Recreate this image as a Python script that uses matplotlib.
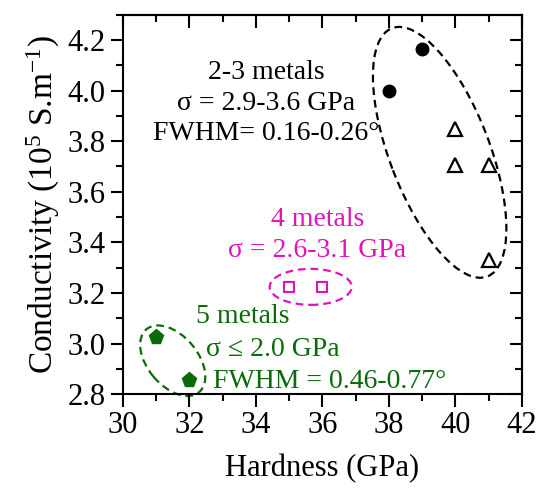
import numpy as np
import matplotlib
matplotlib.use("Agg")
import matplotlib.pyplot as plt
from matplotlib.patches import Ellipse
from matplotlib.transforms import ScaledTranslation
from matplotlib.ticker import MultipleLocator

plt.rcParams['font.family'] = ['Liberation Serif', 'DejaVu Serif']
plt.rcParams['mathtext.fontset'] = 'custom'
plt.rcParams['mathtext.rm'] = 'Liberation Serif'
plt.rcParams['mathtext.it'] = 'Liberation Serif:italic'

# data
circ_x = [38, 39]
circ_y = [4.00, 4.165]
tri_x = [40, 40, 41, 41]
tri_y = [3.85, 3.705, 3.705, 3.33]
sq_x = [35, 36]
sq_y = [3.225, 3.225]
pent_x = [31, 32]
pent_y = [3.025, 2.855]

MAGENTA = '#E014B8'
GREEN = '#0B6B0B'

fig = plt.figure(figsize=(5.39, 4.92), dpi=100)
ax = fig.add_axes([0.228, 0.199, 0.740, 0.771])

ax.plot(circ_x, circ_y, 'o', color='black', ms=9, clip_on=False)
ax.plot(tri_x, tri_y, '^', mfc='white', mec='black', mew=1.6, ms=10, clip_on=False)
ax.plot(sq_x, sq_y, 's', mfc='white', mec=MAGENTA, mew=1.5, ms=7, clip_on=False)
ax.plot(pent_x, pent_y, 'p', color=GREEN, ms=11, clip_on=False)

ax.set_xlim(30, 42)
ax.set_ylim(2.8, 4.3)
ax.xaxis.set_major_locator(MultipleLocator(2))
ax.xaxis.set_minor_locator(MultipleLocator(1))
ax.yaxis.set_major_locator(MultipleLocator(0.2))
ax.yaxis.set_minor_locator(MultipleLocator(0.1))
ax.yaxis.set_major_formatter(matplotlib.ticker.FormatStrFormatter('%.1f'))
ax.tick_params(which='both', direction='out', width=1.5, labelsize=22)
ax.tick_params(which='major', length=9)
ax.tick_params(which='minor', length=5)
for s in ax.spines.values():
    s.set_linewidth(1.5)

# mirrored ticks on top / right pointing inwards
top = ax.secondary_xaxis('top')
top.xaxis.set_major_locator(MultipleLocator(2))
top.xaxis.set_minor_locator(MultipleLocator(1))
right = ax.secondary_yaxis('right')
right.yaxis.set_major_locator(MultipleLocator(0.2))
right.yaxis.set_minor_locator(MultipleLocator(0.1))
for sec in (top, right):
    sec.tick_params(which='both', direction='in', width=1.5, labeltop=False,
                    labelright=False)
    sec.tick_params(which='major', length=9)
    sec.tick_params(which='minor', length=5)
    for s in sec.spines.values():
        s.set_linewidth(1.5)

ax.set_xlabel('Hardness (GPa)', fontsize=22, labelpad=10)
ax.set_ylabel('Conductivity (10$^5$ S.m$^{-1}$)', fontsize=24, labelpad=4)


def dashed_ellipse(cx, cy, w, h, ang, color):
    tr = fig.dpi_scale_trans + ScaledTranslation(cx, cy, ax.transData)
    e = Ellipse((0, 0), w, h, angle=ang, transform=tr, fill=False,
                edgecolor=color, lw=1.6, ls=(0, (3.5, 2.2)), clip_on=False)
    ax.add_patch(e)


dashed_ellipse(39.53, 3.756, 2.66, 1.0, -69, 'black')
dashed_ellipse(35.65, 3.224, 0.82, 0.36, 0, MAGENTA)
dashed_ellipse(31.5, 2.932, 0.82, 0.5, -50, GREEN)

ax.text(34.3, 3.95, '2-3 metals\nσ = 2.9-3.6 GPa\nFWHM= 0.16-0.26°', ha='center',
        va='center', fontsize=20, linespacing=1.3)
ax.text(35.85, 3.43, '4 metals\nσ = 2.6-3.1 GPa', ha='center', va='center',
        fontsize=20, color=MAGENTA, linespacing=1.3)
ax.text(32.2, 3.105, '5 metals', ha='left', va='center', fontsize=20, color=GREEN)
ax.text(32.5, 2.975, 'σ ≤ 2.0 GPa', ha='left', va='center', fontsize=20, color=GREEN)
ax.text(32.7, 2.85, 'FWHM = 0.46-0.77°', ha='left', va='center', fontsize=20, color=GREEN)

fig.savefig('out.png', dpi=100)
